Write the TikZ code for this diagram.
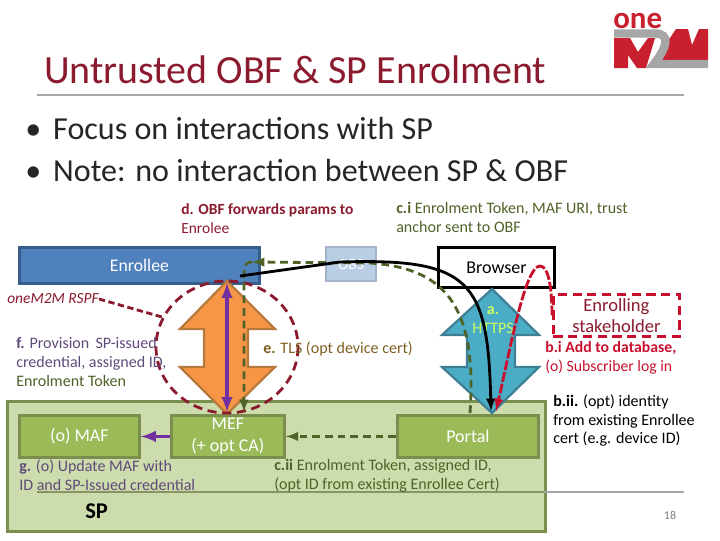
\documentclass[tikz,border=0pt]{standalone}
\usepackage{fontspec}
\setmainfont{Carlito}
\usetikzlibrary{calc}
\definecolor{enrolblue}{HTML}{4F81BD}
\definecolor{enrolline}{HTML}{385D8A}
\definecolor{obslight}{HTML}{B9CDE5}
\definecolor{obsline}{HTML}{A3B3C8}
\definecolor{spfill}{HTML}{CDDCAC}
\definecolor{spline}{HTML}{7A8F4E}
\definecolor{boxfill}{HTML}{9BBB59}
\definecolor{darkolive}{HTML}{4F6228}
\definecolor{rspfred}{HTML}{8C1A2E}
\definecolor{stakered}{HTML}{C8102E}
\definecolor{provpurple}{HTML}{7030A0}
\definecolor{notepurple}{HTML}{604A7B}
\definecolor{orangefill}{HTML}{F79646}
\definecolor{orangeline}{HTML}{B67A3C}
\definecolor{bluefill}{HTML}{4BACC6}
\definecolor{blueline}{HTML}{3F7F96}
\definecolor{tlsbrown}{HTML}{7F6020}
\definecolor{httpsgreen}{HTML}{CCFF66}
\definecolor{logored}{HTML}{C8202F}
\definecolor{logogray}{HTML}{A6A6A6}
\tikzset{
  spbox/.style={draw=spline, fill=boxfill, line width=2pt, text=white, font=\fontsize{12.8}{16}\selectfont, align=center, anchor=north west, inner sep=0pt},
  note/.style={anchor=north west, align=left, inner sep=0pt, font=\fontsize{11.4}{13.5}\selectfont},
  bullet/.style={anchor=base west, inner sep=0pt, font=\fontsize{22.8}{26}\selectfont, text=black!85},
  flow/.style={dash pattern=on 5.5pt off 3.5pt, line width=2pt, color=darkolive}
}
\begin{document}
\begin{tikzpicture}[x=0.025cm, y=-0.025cm]
    \useasboundingbox (0,0) rectangle (720,540);
    % title
    \node (title) [anchor=base west, inner sep=0pt, text=rspfred, font=\fontsize{28.4}{32}\selectfont] at (44,83) {Untrusted OBF \& SP Enrolment};
    \node (bulletA) [bullet] at (25,139) {•\hspace{8.5pt}Focus on interactions with SP};
    \node (bulletB) [bullet] at (25,181) {•\hspace{8.5pt}Note: no interaction between SP \& OBF};
    % logo
    \node (logoOne) [anchor=base west, inner sep=0pt, text=logored, font=\fontsize{22}{22}\selectfont\bfseries] at (613,28) {one};
    \fill [logored] (614,38) -- (630,38) -- (638,52) -- (648,38) -- (655,38) -- (646,68) -- (637,68) -- (628,55) -- (628,68) -- (614,68) -- cycle;
    \fill [logored] (655,60) -- (676,29) -- (688,29) -- (692,45) -- (699,29) -- (708,29) -- (708,60) -- cycle;
    \draw [logogray, line width=6pt] (614,33.5) -- (655,33.5) .. controls (670,33.5) and (668,46) .. (654,64) -- (708,64);
    \draw [logogray, line width=1.4pt] (37,95) -- (684,95);
    % upper boxes
    \node (enrollee) [draw=enrolline, fill=enrolblue, line width=2pt, text=white, anchor=north west, inner sep=0pt, minimum width=6cm, minimum height=0.9cm, font=\fontsize{12.6}{15}\selectfont] at (18,246) {Enrollee};
    \node (obs) [draw=obsline, fill=obslight, line width=1.5pt, text=white, anchor=north west, inner sep=0pt, minimum width=1.25cm, minimum height=0.85cm, font=\fontsize{11}{14}\selectfont] at (325,246) {OBS};
    \node (browser) [draw=black, fill=white, line width=2pt, anchor=north west, inner sep=0pt, minimum width=2.9cm, minimum height=1cm, font=\fontsize{12.8}{15}\selectfont] at (437,246) {Browser};
    % SP area
    \node (sp) [draw=spline, fill=spfill, line width=2pt, anchor=north west, minimum width=13.45cm, minimum height=3.25cm, inner sep=0pt] at (6,400) {};
    \draw [spline!75!logogray, line width=1.4pt] (37,492) -- (544,492);
    \draw [logogray, line width=1.4pt] (544,492) -- (684,492);
    \node (maf) [spbox, minimum width=3cm, minimum height=1.05cm] at (18,414) {(o) MAF};
    \node (mef) [spbox, minimum width=2.825cm, minimum height=1.05cm] at (170,414) {MEF\\(+ opt CA)};
    \node (portal) [spbox, minimum width=3.525cm, minimum height=1.05cm] at (396,414) {Portal};
    \node (spLabel) [anchor=base west, inner sep=0pt, font=\fontsize{16}{18}\selectfont\bfseries] at (85,518) {SP};
    % block arrows
    \draw [draw=orangeline, fill=orangefill, line width=1.6pt] (227,281) -- (275,329) -- (248,329) -- (248,367) -- (275,367) -- (227,414) -- (180,367) -- (204,367) -- (204,329) -- (180,329) -- cycle;
    \draw [draw=blueline, fill=bluefill, line width=1.6pt] (492,289) -- (539,335) -- (515,335) -- (515,367) -- (539,367) -- (492,413) -- (442,367) -- (467,367) -- (467,335) -- (442,335) -- cycle;
    \node (https) [inner sep=0pt, align=center, text=httpsgreen, font=\fontsize{11.4}{13.5}\selectfont] at (493,320) {\textbf{a.}\\HTTPS};
    % RSPF circle
    \draw [rspfred, dash pattern=on 6.5pt off 4pt, line width=2pt] (227,347) ellipse (71 and 66);
    \node (rspf) [anchor=west, inner sep=0pt, text=rspfred, font=\fontsize{11}{12}\selectfont\itshape] at (7,299) {oneM2M RSPF};
    \coordinate (rspfEnd) at (162,317);
    \draw [rspfred, dash pattern=on 4.5pt off 2.5pt, line width=2pt] (rspf.east) -- (rspfEnd);
    % stakeholder
    \node (stake) [draw=stakered, dash pattern=on 6.5pt off 4pt, line width=2pt, text=rspfred, anchor=north west, inner sep=0pt, align=center, minimum width=3.15cm, minimum height=1.05cm, font=\fontsize{13.2}{15}\selectfont] at (552,293) {Enrolling\\stakeholder};
    % flows
    \coordinate (oa) at (227,283);
    \coordinate (ob) at (227,412);
    \coordinate (obfTurn) at (252,262);
    \coordinate (obfDown) at (244,272);
    \coordinate (mefTip) at (244,412);
    \coordinate (greenMid) at (370,263);
    \coordinate (blackStart) at (240,276);
    \coordinate (blackMid) at (340,262);
    \coordinate (blackEnd) at (491,411);
    \coordinate (redPeak) at (540,266);
    \coordinate (redEnd) at (496,411);
    \coordinate (portalTop) at (470,413);
    \draw [provpurple, line width=2.6pt, latex-latex] (oa) -- (ob);
    \draw [provpurple, line width=2.6pt, -latex] (mef.west) -- (maf.east);
    \draw [flow, -latex] (portal.west) -- (mef.east);
    \draw [flow, -latex] (portalTop) .. controls (478,300) and (440,268) .. (greenMid) -- (obfTurn);
    \draw [flow, -latex] (obfTurn) .. controls (246,262) and (244,266) .. (obfDown) -- (mefTip);
    \draw [black, line width=2pt] (blackStart) -- (blackMid);
    \draw [black, line width=2pt, -latex] (blackMid) .. controls (470,258) and (488,280) .. (blackEnd);
    \draw [stakered, dash pattern=on 7pt off 1.5pt, line width=2pt, -latex] (stake.west) .. controls (552,290) and (549,266) .. (redPeak) .. controls (525,266) and (510,350) .. (redEnd);
    % labels
    \node (dNote) [note, text=rspfred, font=\fontsize{11}{13.5}\selectfont] at (181,203) {\textbf{d. OBF forwards params to}\\Enrolee};
    \node (ciNote) [note, text=darkolive] at (396,202) {\textbf{c.i} Enrolment Token, MAF URI, trust\\anchor sent to OBF};
    \node (fNote) [note, text=notepurple] at (16,337) {\textbf{f.} Provision\, SP-issued\\credential, assigned ID,\\\textcolor{darkolive}{Enrolment Token}};
    \node (eNote) [note, text=tlsbrown, anchor=west] at (263,349) {\textbf{e.} TLS (opt device cert)};
    \node (biNote) [note, text=stakered, font=\fontsize{11.2}{13.5}\selectfont] at (545,341) {\textbf{b.i Add to database,}\\(o) Subscriber log in};
    \node (biiNote) [note, text=black] at (553,394) {\textbf{b.ii.} (opt) identity\\from existing Enrollee\\cert (e.g. device ID)};
    \node (gNote) [note, text=notepurple] at (19,459) {\textbf{g.} (o) Update MAF with\\ID and SP-Issued credential};
    \node (ciiNote) [note, text=darkolive] at (274,459) {\textbf{c.ii} Enrolment Token, assigned ID,\\(opt ID from existing Enrollee Cert)};
    \node (pageNo) [anchor=base, inner sep=0pt, text=black!50, font=\fontsize{8.5}{10}\selectfont] at (670,519) {18};
\end{tikzpicture}
\end{document}
